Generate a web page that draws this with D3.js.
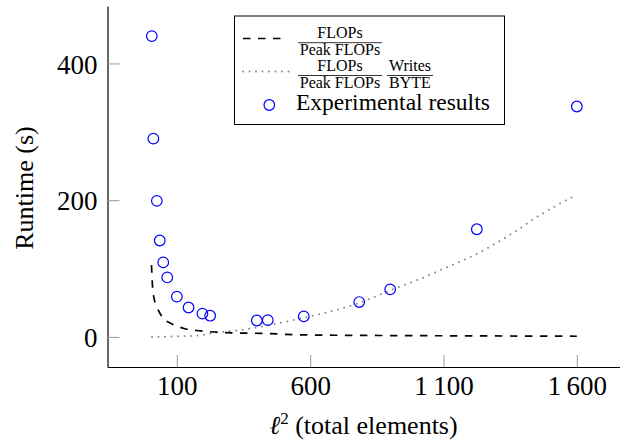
<!DOCTYPE html>
<html lang="en">
<head>
    <meta charset="UTF-8">
    <title>Runtime vs elements</title>
    <script src="https://cdn.jsdelivr.net/npm/d3@7"></script>
    <style>
        body {
            margin: 0;
            background: #fff;
        }
        svg text {
            font-family: "Liberation Serif", "DejaVu Serif", serif;
            fill: #000;
        }
    </style>
</head>
<body>
    <div id="chart"></div>

    <script>
        // tick values
        const xTicks = [100, 600, 1100, 1600];
        const yTicks = [0, 200, 400];

        // experimental results (l^2, runtime in s)
        const expX = [6, 12, 25, 36, 49, 64, 100, 144, 196, 225, 400, 441, 576, 784, 900, 1225, 1600];
        const expY = [440, 290, 199, 141, 109, 87, 59, 43, 34, 31, 24, 24.5, 30, 51, 69.5, 157.5, 337];

        // FLOPs / Peak FLOPs model (dashed)
        const flopsX = [5, 9, 16, 25, 46, 84, 127, 190, 315, 440, 565, 900, 1225, 1600];
        const flopsY = [105, 73, 54, 44, 29, 18.6, 12.3, 8.8, 5.9, 5, 3, 2, 1.5, 1];

        // FLOPs / Peak FLOPs * Writes / BYTE model (dotted)
        const memX = [7, 100, 190, 227, 377, 464, 590, 782, 902, 1002, 1089, 1227, 1340, 1465, 1600];
        const memY = [0, 0.8, 2.5, 5, 12.3, 18.6, 29.3, 49.4, 68.5, 83.2, 97.8, 122, 147, 179, 208];

        const width = 624, height = 441;
        const svg = d3.select("#chart")
            .append("svg")
            .attr("width", width)
            .attr("height", height);

        const x = d3.scaleLinear().domain([-160, 1760]).range([107.5, 619.5]);
        const y = d3.scaleLinear().domain([-44, 484]).range([367, 6]);

        const fmt = d3.formatLocale({decimal: ".", thousands: "\u2009", grouping: [3], currency: ["", ""]}).format(",");

        // x axis
        const xAxis = svg.append("g")
            .attr("transform", `translate(0,${y.range()[0]})`)
            .call(d3.axisBottom(x).tickValues(xTicks).tickSize(-12).tickSizeOuter(0).tickFormat(fmt));
        xAxis.select(".domain").attr("stroke", "#000").attr("stroke-width", 1.2);
        xAxis.selectAll(".tick line").attr("stroke", "#999");
        xAxis.selectAll(".tick text")
            .attr("y", 28)
            .attr("dy", 0)
            .attr("font-size", "27px")
            .attr("font-family", null);

        // y axis
        const yAxis = svg.append("g")
            .attr("transform", `translate(${x.range()[0]},0)`)
            .call(d3.axisLeft(y).tickValues(yTicks).tickSize(-12).tickSizeOuter(0).tickFormat(fmt));
        yAxis.select(".domain").attr("stroke", "#000").attr("stroke-width", 1.2);
        yAxis.selectAll(".tick line").attr("stroke", "#999");
        yAxis.selectAll(".tick text")
            .attr("x", -10)
            .attr("dy", "0.36em")
            .attr("font-size", "27px")
            .attr("font-family", null);

        // axis labels
        const xLabel = svg.append("text")
            .attr("x", (x.range()[0] + x.range()[1]) / 2)
            .attr("y", 434)
            .attr("text-anchor", "middle")
            .attr("font-size", "26px");
        xLabel.append("tspan").attr("font-style", "italic").text("ℓ");
        xLabel.append("tspan").attr("font-size", "17px").attr("dy", -10).text("2");
        xLabel.append("tspan").attr("dy", 10).text(" (total elements)");

        svg.append("text")
            .attr("transform", "translate(33,188) rotate(-90)")
            .attr("text-anchor", "middle")
            .attr("font-size", "26px")
            .text("Runtime (s)");

        const line = d3.line()
            .x(d => x(d[0]))
            .y(d => y(d[1]))
            .curve(d3.curveMonotoneX);

        // dotted model
        svg.append("path")
            .datum(d3.zip(memX, memY))
            .attr("d", line)
            .attr("fill", "none")
            .attr("stroke", "#888")
            .attr("stroke-width", 2)
            .attr("stroke-linecap", "round")
            .attr("stroke-dasharray", "0,6.5");

        // dashed model
        svg.append("path")
            .datum(d3.zip(flopsX, flopsY))
            .attr("d", line)
            .attr("fill", "none")
            .attr("stroke", "#000")
            .attr("stroke-width", 1.7)
            .attr("stroke-dasharray", "7.5,7.5");

        // experimental points
        svg.append("g")
            .selectAll("circle")
            .data(d3.zip(expX, expY))
            .join("circle")
            .attr("cx", d => x(d[0]))
            .attr("cy", d => y(d[1]))
            .attr("r", 5.3)
            .attr("fill", "none")
            .attr("stroke", "#0000ff")
            .attr("stroke-width", 1.2);

        // legend
        const lg = svg.append("g");
        lg.append("rect")
            .attr("x", 234.5).attr("y", 16)
            .attr("width", 270).attr("height", 108.5)
            .attr("fill", "#fff")
            .attr("stroke", "#000")
            .attr("stroke-width", 1);

        lg.append("line")
            .attr("x1", 243).attr("x2", 283).attr("y1", 38.5).attr("y2", 38.5)
            .attr("stroke", "#000").attr("stroke-width", 1.7)
            .attr("stroke-dasharray", "7.5,7.5");
        lg.append("line")
            .attr("x1", 243).attr("x2", 290).attr("y1", 71.5).attr("y2", 71.5)
            .attr("stroke", "#888").attr("stroke-width", 2)
            .attr("stroke-linecap", "round")
            .attr("stroke-dasharray", "0,6.5");
        lg.append("circle")
            .attr("cx", 269.3).attr("cy", 105).attr("r", 5.3)
            .attr("fill", "none").attr("stroke", "#0000ff").attr("stroke-width", 1.2);

        // fraction helper
        function fraction(cx, x0, x1, barY, top, bottom) {
            lg.append("text").attr("x", cx).attr("y", barY - 4.5)
                .attr("text-anchor", "middle").attr("font-size", "16px").text(top);
            lg.append("line").attr("x1", x0).attr("x2", x1).attr("y1", barY).attr("y2", barY)
                .attr("stroke", "#000").attr("stroke-width", 0.8);
            lg.append("text").attr("x", cx).attr("y", barY + 12)
                .attr("text-anchor", "middle").attr("font-size", "16px").text(bottom);
        }
        fraction(340, 298, 382, 42.7, "FLOPs", "Peak FLOPs");
        fraction(340, 298, 382, 75.5, "FLOPs", "Peak FLOPs");
        fraction(410, 387, 433, 75.5, "Writes", "BYTE");

        lg.append("text")
            .attr("x", 296).attr("y", 110)
            .attr("font-size", "23.5px")
            .text("Experimental results");
    </script>
</body>
</html>
